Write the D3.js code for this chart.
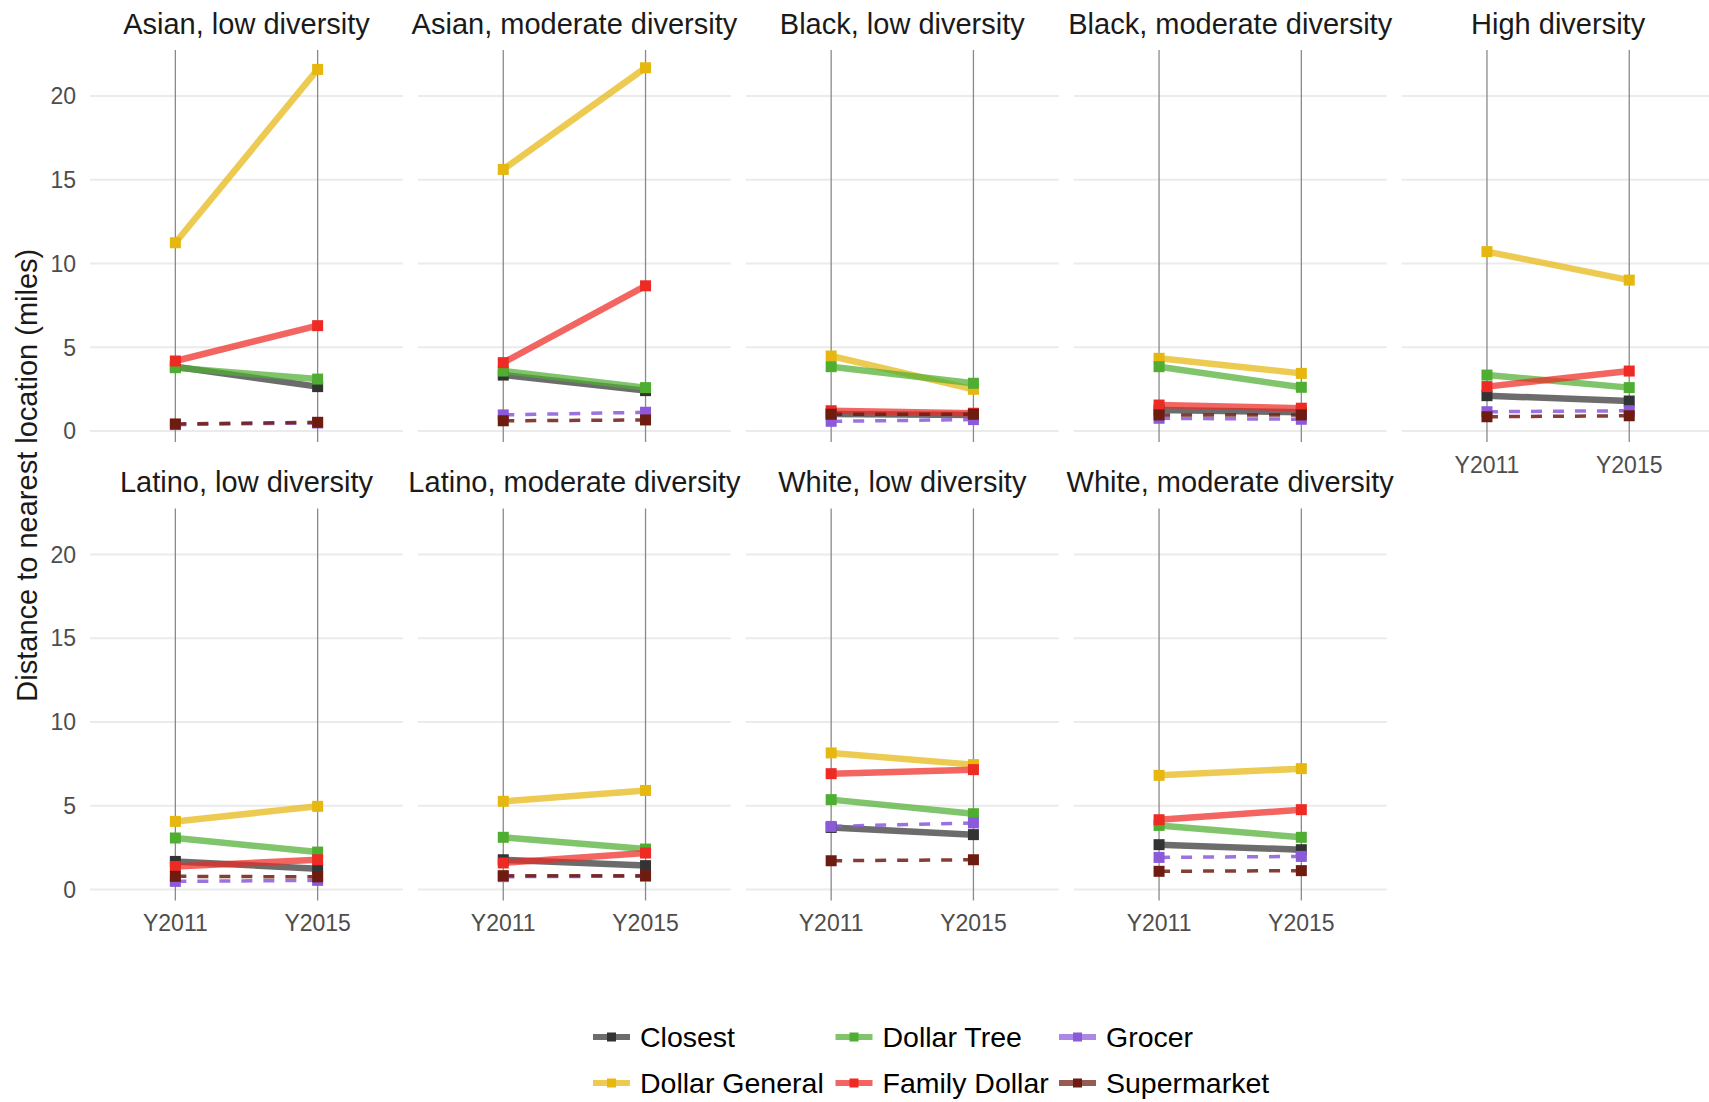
<!DOCTYPE html>
<html>
<head>
<meta charset="utf-8">
<script src="https://cdn.jsdelivr.net/npm/d3@7"></script>
<style>
  body { margin: 0; background: #fff; }
  svg { display: block; font-family: "Liberation Sans", Arial, sans-serif; }
</style>
</head>
<body>
<div id="chart"></div>
<script>
// facet panels, in facet_wrap order
const panels = [
  "Asian, low diversity", "Asian, moderate diversity", "Black, low diversity",
  "Black, moderate diversity", "High diversity", "Latino, low diversity",
  "Latino, moderate diversity", "White, low diversity", "White, moderate diversity"
];
const years = ["Y2011", "Y2015"];
const yTicks = [0, 5, 10, 15, 20];
const stores = ["Closest", "Dollar General", "Dollar Tree", "Family Dollar", "Grocer", "Supermarket"];
const storeColors = ["#333333", "#E6B70F", "#4FAE32", "#EE2A24", "#8A5AD8", "#6E1C10"];
const dashedStores = ["Grocer", "Supermarket"];

// [Y2011, Y2015] per panel
const closest = [[3.84, 2.65], [3.34, 2.41], [1.02, 0.95], [1.25, 1.12], [2.11, 1.79],
                 [1.67, 1.24], [1.77, 1.42], [3.70, 3.27], [2.67, 2.37]];
const dollarGeneral = [[11.24, 21.59], [15.62, 21.69], [4.48, 2.49], [4.34, 3.44], [10.71, 9.01],
                       [4.06, 4.96], [5.26, 5.91], [8.15, 7.45], [6.81, 7.21]];
const dollarTree = [[3.78, 3.10], [3.58, 2.59], [3.84, 2.85], [3.84, 2.61], [3.34, 2.59],
                    [3.07, 2.23], [3.11, 2.41], [5.36, 4.52], [3.82, 3.11]];
const familyDollar = [[4.18, 6.29], [4.08, 8.67], [1.21, 1.06], [1.55, 1.36], [2.65, 3.58],
                      [1.37, 1.77], [1.58, 2.17], [6.91, 7.15], [4.16, 4.76]];
const grocer = [[0.38, 0.48], [0.96, 1.12], [0.58, 0.68], [0.76, 0.70], [1.15, 1.21],
                [0.48, 0.54], [0.76, 0.79], [3.76, 3.97], [1.91, 1.97]];
const supermarket = [[0.42, 0.52], [0.61, 0.66], [1.00, 1.00], [0.96, 0.96], [0.85, 0.91],
                     [0.78, 0.75], [0.82, 0.82], [1.71, 1.77], [1.08, 1.12]];
const seriesValues = [closest, dollarGeneral, dollarTree, familyDollar, grocer, supermarket];

const W = 1709, H = 1102;
const nCols = 5;
const panelW = 313, panelH = 392;
const colStep = 327.9, rowStep = 458.4;
const left0 = 90, top0 = 50;

const svg = d3.select("#chart").append("svg")
  .attr("width", W).attr("height", H);

const x = d3.scalePoint().domain(years).range([0, panelW]).padding(0.6);
const y = d3.scaleLinear().domain([-0.657, 22.75]).range([panelH, 0]);
const color = d3.scaleOrdinal().domain(stores).range(storeColors);

const line = d3.line().x(d => x(d.year)).y(d => y(d.value));

panels.forEach((name, i) => {
  const col = i % nCols, row = Math.floor(i / nCols);
  const g = svg.append("g")
    .attr("transform", "translate(" + (left0 + col * colStep) + "," + (top0 + row * rowStep) + ")");

  // horizontal grid
  g.selectAll(".grid").data(yTicks).enter().append("line")
    .attr("x1", 0).attr("x2", panelW)
    .attr("y1", d => y(d)).attr("y2", d => y(d))
    .attr("stroke", "#ebebeb").attr("stroke-width", 2);

  // vertical year lines
  g.selectAll(".vline").data(years).enter().append("line")
    .attr("x1", d => x(d)).attr("x2", d => x(d))
    .attr("y1", 0).attr("y2", panelH)
    .attr("stroke", "#8a8a8a").attr("stroke-width", 1.3);

  // strip title
  g.append("text")
    .attr("x", panelW / 2).attr("y", -16)
    .attr("text-anchor", "middle")
    .attr("font-size", 29).attr("fill", "#1a1a1a")
    .text(name);

  // y tick labels on first column
  if (col === 0) {
    g.selectAll(".ylab").data(yTicks).enter().append("text")
      .attr("x", -14).attr("y", d => y(d))
      .attr("dy", "0.36em")
      .attr("text-anchor", "end")
      .attr("font-size", 23).attr("fill", "#4d4d4d")
      .text(d => d);
  }

  // x tick labels when no panel below
  if (i + nCols >= panels.length) {
    g.selectAll(".xlab").data(years).enter().append("text")
      .attr("x", d => x(d)).attr("y", panelH + 31)
      .attr("text-anchor", "middle")
      .attr("font-size", 23).attr("fill", "#4d4d4d")
      .text(d => d);
  }

  const series = stores.map((s, k) => ({
    store: s,
    points: years.map((yr, j) => ({ year: yr, value: seriesValues[k][i][j] }))
  }));

  // lines
  g.selectAll(".series").data(series).enter().append("path")
    .attr("d", d => line(d.points))
    .attr("fill", "none")
    .attr("stroke", d => color(d.store))
    .attr("stroke-opacity", d => dashedStores.includes(d.store) ? 0.85 : 0.72)
    .attr("stroke-width", d => dashedStores.includes(d.store) ? 3.5 : 6.5)
    .attr("stroke-dasharray", d => dashedStores.includes(d.store) ? "11,11" : null);

  // points
  const sq = 11;
  series.forEach(s => {
    g.selectAll(null).data(s.points).enter().append("rect")
      .attr("x", d => x(d.year) - sq / 2)
      .attr("y", d => y(d.value) - sq / 2)
      .attr("width", sq).attr("height", sq)
      .attr("fill", color(s.store));
  });
});

// y axis title
svg.append("text")
  .attr("transform", "translate(37," + (top0 + (rowStep + panelH) / 2) + ") rotate(-90)")
  .attr("text-anchor", "middle")
  .attr("font-size", 29).attr("fill", "#1a1a1a")
  .text("Distance to nearest location (miles)");

// legend, filled column by column
const legendCols = [593, 835.5, 1059];
const legendRows = [1037, 1083];
const legend = svg.append("g");
stores.forEach((s, k) => {
  const lx = legendCols[Math.floor(k / 2)], ly = legendRows[k % 2];
  const item = legend.append("g").attr("transform", "translate(" + lx + "," + ly + ")");
  item.append("line")
    .attr("x1", 0).attr("x2", 37).attr("y1", 0).attr("y2", 0)
    .attr("stroke", color(s)).attr("stroke-opacity", 0.72)
    .attr("stroke-width", 6);
  item.append("rect")
    .attr("x", 14).attr("y", -4.5).attr("width", 9).attr("height", 9)
    .attr("fill", color(s));
  item.append("text")
    .attr("x", 47)
    .attr("dy", "0.36em")
    .attr("font-size", 28.5).attr("fill", "#000")
    .text(s);
});
</script>
</body>
</html>
